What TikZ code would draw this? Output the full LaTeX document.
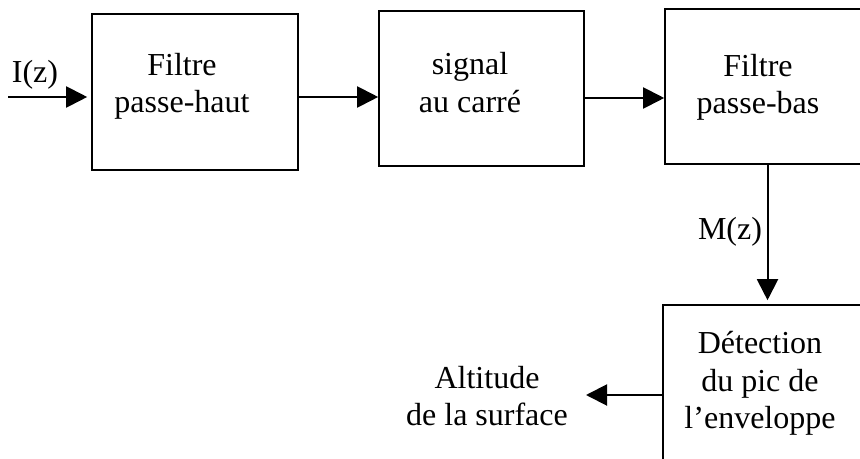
\documentclass[tikz,border=0pt]{standalone}
\usepackage{fontspec}
\setmainfont{Liberation Serif}
\usetikzlibrary{arrows.meta}
\usetikzlibrary{positioning}
\tikzset{x=0.5pt, y=-0.5pt,
every node/.style={font=\fontsize{16}{18.75}\selectfont},
block/.style={ % Sets the properties for each stage
draw,
line width=0.8pt,
minimum width=102.5pt,
minimum height=77.5pt,
inner sep=0pt},
blocktext/.style={align=center, inner sep=0pt}, % Text set inside a stage
every edge/.style={ % Sets the properties for each signal line
draw,
line width=1pt,
-{Triangle[length=10.5pt,width=10.5pt]}}}
\begin{document}
\begin{tikzpicture}
\useasboundingbox (0,0) rectangle (860,459);
\node[block, minimum width=103pt, minimum height=78pt] (hp) at (195,92) {};
\node[block] (sq) at (481.5,88.5) {};
\node[block] (lp) at (767.5,86.5) {};
\node[block, minimum height=90pt] (det) at (765.5,395) {};
\node[blocktext] (hptext) at (182,86.5) {Filtre\\passe-haut};
\node[blocktext] (sqtext) at (470,82.5) {signal\\au carré};
\node[blocktext] (lptext) at (758,87.5) {Filtre\\passe-bas};
\node[blocktext] (dettext) at (760,383.5) {Détection\\du pic de\\l’enveloppe};
\node[blocktext] (alt) at (487,396) {Altitude\\de la surface};
\node[blocktext] (Iz) at (35,75) {I(z)};
\node[blocktext] (Mz) at (730,232) {M(z)};
\coordinate (in) at (8,97);
\coordinate (a1) at (0,97);
\coordinate (a2) at (0,98);
\coordinate (out) at (586,395);
\draw (in) edge[shorten >=2pt] (hp.west |- in);
\draw (hp.east |- a1) edge (sq.west |- a1);
\draw (sq.east |- a2) edge (lp.west |- a2);
\draw (lp.south) edge[shorten >=2pt] (det.north -| lp.south);
\draw (det.west) edge (out);
\end{tikzpicture}
\end{document}
